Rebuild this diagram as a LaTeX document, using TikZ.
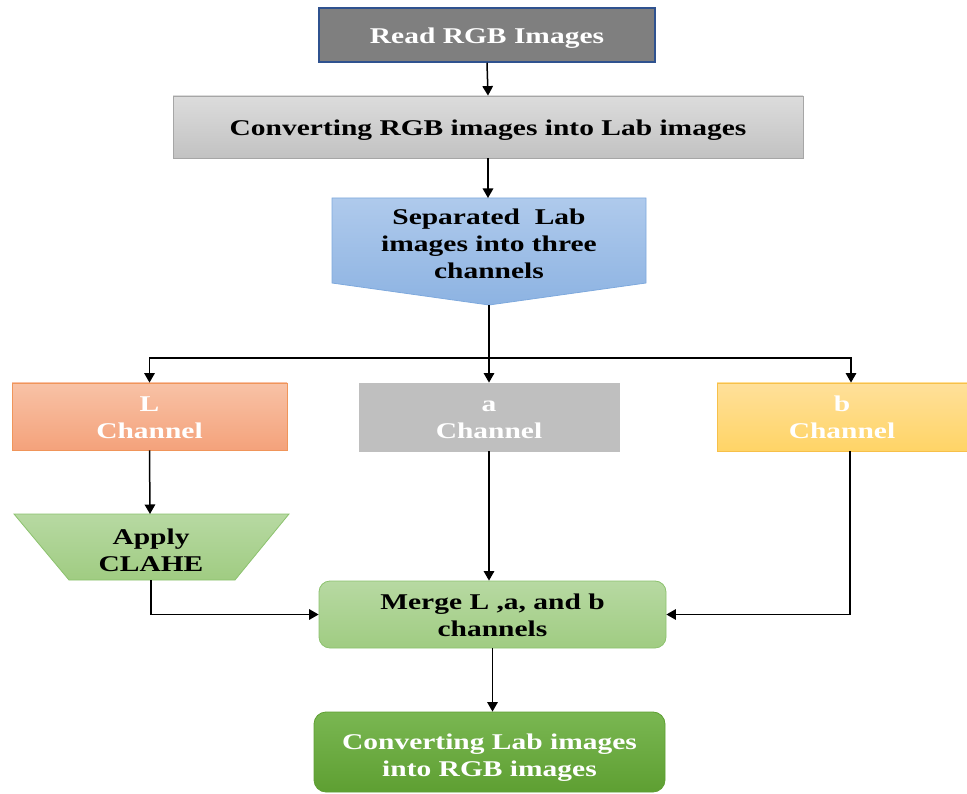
\documentclass[tikz,border=0pt]{standalone}
\usepackage{fontspec}
\setmainfont{Liberation Serif}[FakeStretch=1.31]
\usetikzlibrary{arrows.meta}
\newcommand\dn[2][3pt]{\raisebox{-#1}[\height][\depth]{\begin{tabular}{@{}c@{}}#2\end{tabular}}}
\definecolor{readfill}{HTML}{7F7F7F}
\definecolor{readborder}{HTML}{2F528F}
\definecolor{convtop}{HTML}{DCDCDC}
\definecolor{convbot}{HTML}{C2C2C2}
\definecolor{convborder}{HTML}{A6A6A6}
\definecolor{septop}{HTML}{AFCAEC}
\definecolor{sepbot}{HTML}{8DB3E2}
\definecolor{sepborder}{HTML}{7EA9DD}
\definecolor{Ltop}{HTML}{F8C2A6}
\definecolor{Lbot}{HTML}{F4A27B}
\definecolor{Lborder}{HTML}{F0955A}
\definecolor{afill}{HTML}{BFBFBF}
\definecolor{btop}{HTML}{FFE09A}
\definecolor{bbot}{HTML}{FFD466}
\definecolor{bborder}{HTML}{F7C04A}
\definecolor{gtop}{HTML}{B7D9A2}
\definecolor{gbot}{HTML}{A0CC82}
\definecolor{gborder}{HTML}{8CC26E}
\definecolor{ftop}{HTML}{7AB752}
\definecolor{fbot}{HTML}{5E9F32}
\begin{document}
\begin{tikzpicture}[x=1pt,y=-1pt,
  txt/.style={font=\fontsize{22.5}{27}\selectfont\bfseries, align=center},
  box/.style={txt, rectangle, inner sep=0pt},
  arr/.style={line width=1.5pt, -{Triangle[width=10.5pt,length=9.5pt]}},
  ln/.style={line width=1.5pt}]
\useasboundingbox (0,0) rectangle (967,794);
% boxes
\node[box, fill=readfill, draw=readborder, line width=1.5pt, text=white,
  minimum width=336pt, minimum height=54pt] (read) at (487,35) {\dn{Read RGB Images}};
\node[box, top color=convtop, bottom color=convbot, draw=convborder, line width=0.8pt,
  minimum width=630pt, minimum height=62pt] (conv) at (488,127) {\dn{Converting RGB images into Lab images}};
% pentagon
\draw[top color=septop, bottom color=sepbot, draw=sepborder, line width=0.8pt]
  (332,198) -- (646,198) -- (646,283) -- (489,305) -- (332,283) -- cycle;
\coordinate (septopc) at (488,198);
\coordinate (septip) at (489,305);
\node[txt] (sep) at (489,244) {Separated\ \ Lab\\images into three\\channels};
% channels
\node[box, top color=Ltop, bottom color=Lbot, draw=Lborder, line width=0.8pt, text=white,
  minimum width=275pt, minimum height=67pt] (L) at (149.5,416.5) {\dn{L\\Channel}};
\node[box, fill=afill, draw=afill, line width=0.8pt, text=white,
  minimum width=260pt, minimum height=68pt] (a) at (489,417) {\dn{a\\Channel}};
\node[box, top color=btop, bottom color=bbot, draw=bborder, line width=0.8pt, text=white,
  minimum width=250pt, minimum height=68pt] (b) at (842,417) {\dn{b\\Channel}};
% CLAHE trapezoid
\draw[top color=gtop, bottom color=gbot, draw=gborder, line width=0.8pt]
  (14,514) -- (289,514) -- (235,580) -- (69,580) -- cycle;
\coordinate (clahetop) at (150,514);
\coordinate (clahebot) at (151,580);
\node[txt] (clahe) at (151,550) {Apply\\CLAHE};
% merge
\node[box, top color=gtop, bottom color=gbot, draw=gborder, line width=0.8pt, rounded corners=11pt,
  minimum width=347pt, minimum height=67pt] (merge) at (492.5,614.5) {\dn{Merge L ,a, and b\\channels}};
\node[box, top color=ftop, bottom color=fbot, draw=fbot, line width=0.8pt, rounded corners=12pt, text=white,
  minimum width=351pt, minimum height=80pt] (final) at (489.5,752) {\dn[5.5pt]{Converting Lab images\\into RGB images}};
% connectors
\draw[arr] (read.south) -- (conv.north);
\draw[arr] (conv.south) -- (septopc);
\coordinate (split) at (489,358);
\draw[arr] (septip) -- (a.north);
\draw[arr] (split) -| (L.north);
\draw[arr] (split) -| ([xshift=9pt]b.north);
\draw[arr] (L.south) -- (clahetop);
\draw[arr] (clahebot) |- (merge.west);
\draw[arr] (a.south) -- (a.south |- merge.north);
\draw[arr] ([xshift=8pt]b.south) |- (merge.east);
\draw[arr] (merge.south) -- (merge.south |- final.north);
\end{tikzpicture}
\end{document}
